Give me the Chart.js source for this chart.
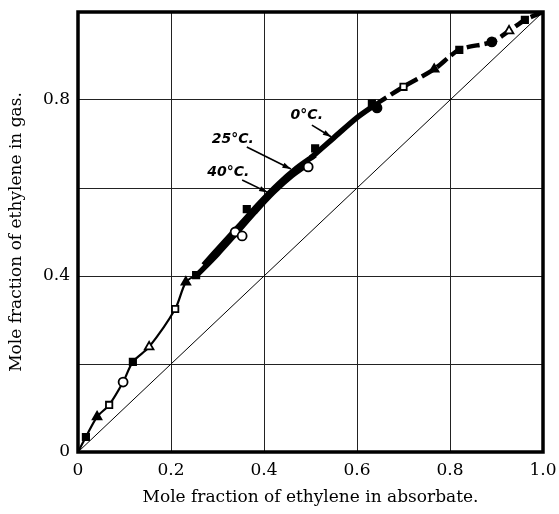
<!DOCTYPE html>
<html lang="en">
<head>
    <meta charset="UTF-8">
    <title>Mole fraction of ethylene</title>
    <script src="https://cdn.jsdelivr.net/npm/chart.js"></script>
    <style>
        body { margin: 0; background: #fff; }
        .wrap { width: 559px; height: 514px; }
    </style>
</head>
<body>
    <div class="wrap"><canvas id="grafico"></canvas></div>
    <script>
        // axis ticks
        const xTicks = [0, 0.2, 0.4, 0.6, 0.8, 1.0];
        const yLabelled = [0, 0.4, 0.8];

        // diagonal y = x
        const diagX = [0, 1];
        const diagY = [0, 1];

        // thin curve, low concentrations
        const lowX = [0, 0.017, 0.041, 0.067, 0.097, 0.118, 0.153, 0.209, 0.232, 0.254];
        const lowY = [0, 0.034, 0.080, 0.107, 0.159, 0.205, 0.239, 0.325, 0.386, 0.402];

        // thick curves per temperature
        const c40X = [0.254, 0.30, 0.34, 0.38, 0.42, 0.46, 0.50];
        const c40Y = [0.400, 0.450, 0.497, 0.545, 0.590, 0.628, 0.658];
        const c25X = [0.27, 0.31, 0.35, 0.39, 0.43, 0.47, 0.51];
        const c25Y = [0.425, 0.472, 0.518, 0.565, 0.608, 0.645, 0.675];
        const c0X = [0.50, 0.55, 0.60, 0.64];
        const c0Y = [0.668, 0.714, 0.760, 0.790];

        // dashed curve, high concentrations
        const highX = [0.64, 0.70, 0.766, 0.82, 0.89, 0.927, 0.961, 1.0];
        const highY = [0.79, 0.83, 0.870, 0.914, 0.932, 0.957, 0.982, 1.0];

        // measured points by symbol
        const fSquareX = [0.017, 0.118, 0.254, 0.363, 0.51, 0.632, 0.82, 0.961];
        const fSquareY = [0.034, 0.205, 0.402, 0.552, 0.69, 0.792, 0.914, 0.982];
        const oSquareX = [0.067, 0.209, 0.70];
        const oSquareY = [0.107, 0.325, 0.83];
        const fTriX = [0.041, 0.232, 0.766];
        const fTriY = [0.080, 0.386, 0.870];
        const oTriX = [0.153, 0.927];
        const oTriY = [0.239, 0.957];
        const fCircX = [0.643, 0.89];
        const fCircY = [0.782, 0.932];
        const oCircX = [0.097, 0.338, 0.353, 0.495];
        const oCircY = [0.159, 0.500, 0.491, 0.648];

        // temperature labels and arrows (data coordinates)
        const tempLabels = ["0°C.", "25°C.", "40°C."];
        const tempLabelX = [0.492, 0.333, 0.323];
        const tempLabelY = [0.764, 0.711, 0.636];
        const arrowFromX = [0.503, 0.363, 0.353];
        const arrowFromY = [0.743, 0.693, 0.618];
        const arrowToX = [0.545, 0.458, 0.408];
        const arrowToY = [0.716, 0.643, 0.590];

        function pts(xs, ys) {
            return xs.map((x, i) => ({ x: x, y: ys[i] }));
        }

        function marker(xs, ys, style, filled) {
            return {
                data: pts(xs, ys),
                showLine: false,
                pointStyle: style,
                pointRadius: style === "triangle" ? 5 : 4.5,
                backgroundColor: filled ? "#000" : "#fff",
                borderColor: "#000",
                borderWidth: 1.8,
            };
        }

        function curve(xs, ys, width, dash) {
            return {
                data: pts(xs, ys),
                showLine: true,
                pointRadius: 0,
                borderColor: "#000",
                borderWidth: width,
                borderDash: dash || [],
                borderCapStyle: "butt",
                tension: 0.3,
            };
        }

        const cornice = {
            id: "cornice",
            afterDatasetsDraw(chart) {
                const ctx = chart.ctx;
                const a = chart.chartArea;
                const sx = chart.scales.x, sy = chart.scales.y;
                ctx.save();
                ctx.strokeStyle = "#000";
                ctx.lineWidth = 3.5;
                ctx.strokeRect(a.left, a.top, a.right - a.left, a.bottom - a.top);

                ctx.font = "italic bold 14px 'DejaVu Sans'";
                ctx.fillStyle = "#000";
                ctx.textAlign = "center";
                ctx.textBaseline = "middle";
                tempLabels.forEach((t, i) => {
                    ctx.fillText(t, sx.getPixelForValue(tempLabelX[i]), sy.getPixelForValue(tempLabelY[i]));
                    const x1 = sx.getPixelForValue(arrowFromX[i]), y1 = sy.getPixelForValue(arrowFromY[i]);
                    const x2 = sx.getPixelForValue(arrowToX[i]), y2 = sy.getPixelForValue(arrowToY[i]);
                    const ang = Math.atan2(y2 - y1, x2 - x1);
                    ctx.lineWidth = 1.6;
                    ctx.beginPath();
                    ctx.moveTo(x1, y1);
                    ctx.lineTo(x2, y2);
                    ctx.stroke();
                    ctx.beginPath();
                    ctx.moveTo(x2, y2);
                    ctx.lineTo(x2 - 9 * Math.cos(ang - 0.3), y2 - 9 * Math.sin(ang - 0.3));
                    ctx.lineTo(x2 - 9 * Math.cos(ang + 0.3), y2 - 9 * Math.sin(ang + 0.3));
                    ctx.closePath();
                    ctx.fill();
                });
                ctx.restore();
            }
        };

        const serif = "'DejaVu Serif', 'Liberation Serif', serif";

        function senzaPadding(s) {
            s.paddingLeft = 0;
            s.paddingRight = 0;
            s.paddingTop = 0;
            s.paddingBottom = 0;
        }

        function creaGrafico() {
            const ctx = document.getElementById("grafico").getContext("2d");
            new Chart(ctx, {
                type: "scatter",
                data: {
                    datasets: [
                        marker(fSquareX, fSquareY, "rect", true),
                        marker(oSquareX, oSquareY, "rect", false),
                        marker(fTriX, fTriY, "triangle", true),
                        marker(oTriX, oTriY, "triangle", false),
                        marker(fCircX, fCircY, "circle", true),
                        marker(oCircX, oCircY, "circle", false),
                        curve(lowX, lowY, 2.2),
                        curve(c40X, c40Y, 5.5),
                        curve(c25X, c25Y, 5.5),
                        curve(c0X, c0Y, 5.5),
                        curve(highX, highY, 4.5, [13, 5]),
                        { data: pts(diagX, diagY), showLine: true, pointRadius: 0, borderColor: "#000", borderWidth: 1 },
                    ],
                },
                options: {
                    responsive: true,
                    maintainAspectRatio: false,
                    animation: false,
                    layout: { padding: { top: 12, right: 16, left: 0, bottom: 0 } },
                    plugins: { legend: { display: false }, tooltip: { enabled: false } },
                    scales: {
                        x: {
                            type: "linear",
                            min: 0,
                            max: 1,
                            afterBuildTicks: (s) => { s.ticks = xTicks.map(v => ({ value: v })); },
                            afterFit: (s) => { s.height = 62; senzaPadding(s); },
                            grid: { color: "#222", lineWidth: 1, drawTicks: false },
                            border: { display: false },
                            ticks: {
                                padding: 8,
                                color: "#000",
                                font: { family: serif, size: 17 },
                                maxRotation: 0,
                                callback: (v) => v === 0 ? "0" : v.toFixed(1),
                            },
                            title: {
                                display: true,
                                text: "Mole fraction of ethylene in absorbate.",
                                color: "#000",
                                font: { family: serif, size: 17 },
                                padding: { top: 0, bottom: 6 },
                            },
                        },
                        y: {
                            type: "linear",
                            min: 0,
                            max: 1,
                            afterBuildTicks: (s) => { s.ticks = xTicks.map(v => ({ value: v })); },
                            afterFit: (s) => { s.width = 78; senzaPadding(s); },
                            grid: { color: "#222", lineWidth: 1, drawTicks: false },
                            border: { display: false },
                            ticks: {
                                padding: 8,
                                color: "#000",
                                font: { family: serif, size: 17 },
                                callback: (v) => yLabelled.some(l => Math.abs(l - v) < 1e-6) ? (v === 0 ? "0" : v.toFixed(1)) : "",
                            },
                            title: {
                                display: true,
                                text: "Mole fraction of ethylene in gas.",
                                color: "#000",
                                font: { family: serif, size: 17 },
                                padding: { top: 6, bottom: 0 },
                            },
                        },
                    },
                },
                plugins: [cornice],
            });
        }

        document.addEventListener("DOMContentLoaded", creaGrafico);
    </script>
</body>
</html>
